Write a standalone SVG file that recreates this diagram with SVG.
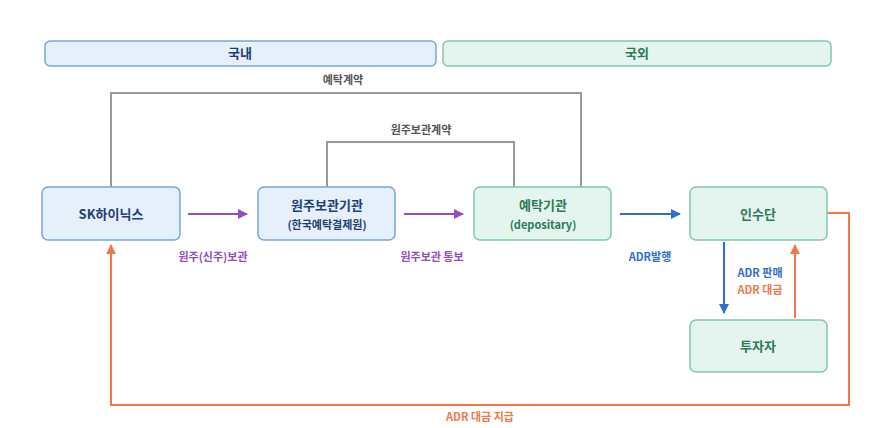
<svg xmlns="http://www.w3.org/2000/svg" width="872" height="428" viewBox="0 0 872 428">
<defs>
<style>
.t{font-family:"Noto Sans CJK KR","Noto Sans",sans-serif;font-weight:700;text-anchor:middle}
.bl{fill:#e6f0fb;stroke:#78a6d8;stroke-width:1.5}
.gr{fill:#e3f5ee;stroke:#82c9a8;stroke-width:1.5}
.bt{fill:#1f3f73}
.gt{fill:#2d7a58}
.c{fill:none;stroke-width:2}
</style>
<marker id="mp" viewBox="0 0 10 10" refX="9" refY="5" markerWidth="5" markerHeight="5" orient="auto"><path d="M0,0L10,5L0,10z" fill="#8e4fc0"/></marker>
<marker id="mb" viewBox="0 0 10 10" refX="9" refY="5" markerWidth="5" markerHeight="5" orient="auto"><path d="M0,0L10,5L0,10z" fill="#2f6fc9"/></marker>
<marker id="mo" viewBox="0 0 10 10" refX="9" refY="5" markerWidth="5" markerHeight="5" orient="auto"><path d="M0,0L10,5L0,10z" fill="#ee7a4c"/></marker>
</defs>
<rect width="872" height="428" fill="#ffffff"/>
<g id="domestic"><rect class="bl" x="45" y="41" width="391" height="25" rx="5"/><text class="t bt" x="240" y="58" font-size="13">국내</text></g>
<g id="overseas"><rect class="gr" x="443" y="41" width="388" height="25" rx="5"/><text class="t gt" x="637" y="58" font-size="13">국외</text></g>
<g id="connectors">
<path class="c" d="M111,187V93H581V187" stroke="#9a9a9a" stroke-width="1.5"/>
<text class="t" x="343" y="84" font-size="11" fill="#555">예탁계약</text>
<path class="c" d="M327,187V142H514V187" stroke="#9a9a9a" stroke-width="1.5"/>
<text class="t" x="421" y="134" font-size="11" fill="#555">원주보관계약</text>
<path class="c" d="M188,214H247" stroke="#8e4fc0" marker-end="url(#mp)"/>
<text class="t" x="213" y="261" font-size="11" fill="#8e4fc0">원주(신주)보관</text>
<path class="c" d="M404,214H463" stroke="#8e4fc0" marker-end="url(#mp)"/>
<text class="t" x="432" y="261" font-size="11" fill="#8e4fc0">원주보관 통보</text>
<path class="c" d="M620,214H680" stroke="#2f6fc9" marker-end="url(#mb)"/>
<text class="t" x="650" y="261" font-size="11" fill="#2f6fc9">ADR발행</text>
<path class="c" d="M724,242V313" stroke="#2f6fc9" marker-end="url(#mb)"/>
<path class="c" d="M795,318V245" stroke="#ee7a4c" marker-end="url(#mo)"/>
<text class="t" x="760" y="277" font-size="11" fill="#2f6fc9">ADR 판매</text>
<text class="t" x="760" y="294" font-size="11" fill="#ee7a4c">ADR 대금</text>
<path class="c" d="M827,213H849V405H111V245" stroke="#ee7a4c" marker-end="url(#mo)"/>
<text class="t" x="480" y="421" font-size="11" fill="#ee7a4c">ADR 대금 지급</text>
</g>
<g id="skhynix"><rect class="bl" x="42" y="187" width="138" height="53" rx="6"/><text class="t bt" x="111" y="219" font-size="13">SK하이닉스</text></g>
<g id="custodian"><rect class="bl" x="258" y="187" width="137" height="53" rx="6"/><text class="t bt" x="327" y="210" font-size="13">원주보관기관</text><text class="t bt" x="327" y="229" font-size="11">(한국예탁결제원)</text></g>
<g id="depositary"><rect class="gr" x="474" y="187" width="137" height="53" rx="6"/><text class="t gt" x="543" y="210" font-size="13">예탁기관</text><text class="t gt" x="543" y="229" font-size="11">(depositary)</text></g>
<g id="underwriter"><rect class="gr" x="690" y="187" width="137" height="53" rx="6"/><text class="t gt" x="758" y="219" font-size="13">인수단</text></g>
<g id="investor"><rect class="gr" x="690" y="320" width="137" height="52" rx="6"/><text class="t gt" x="758" y="351" font-size="13">투자자</text></g>
</svg>
